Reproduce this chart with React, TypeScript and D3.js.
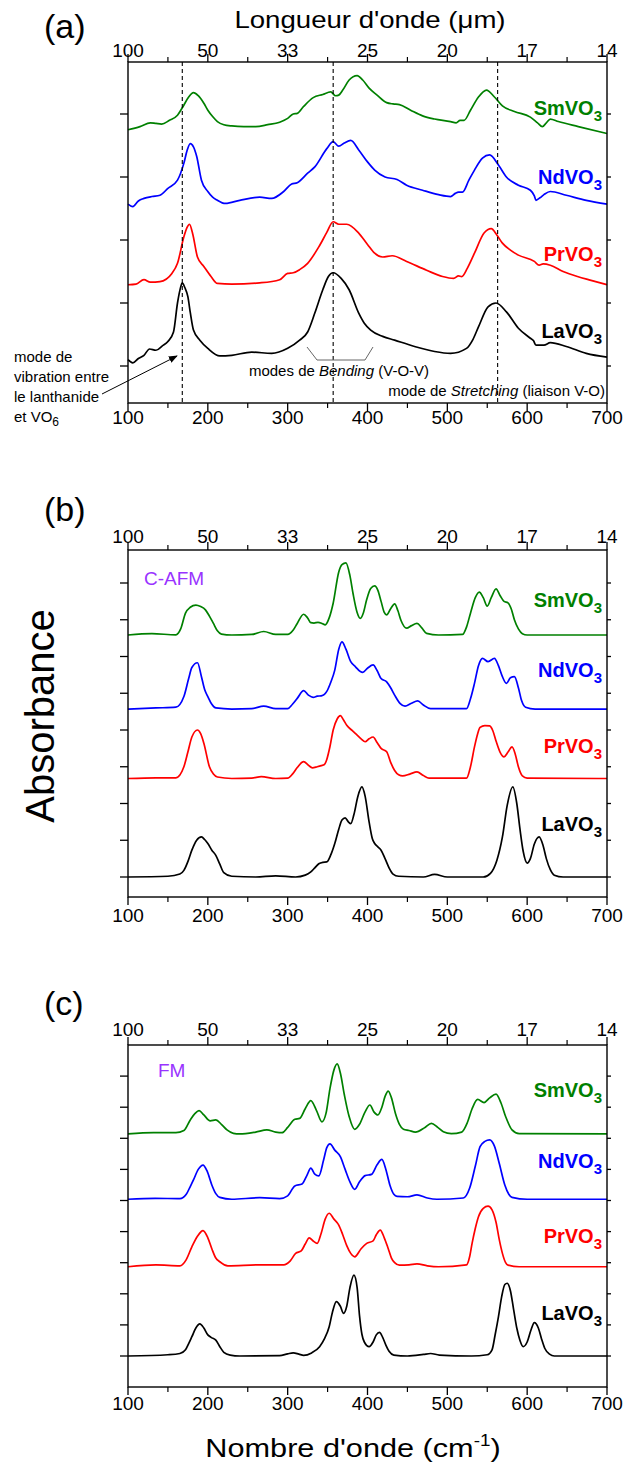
import React from 'react';
import * as d3 from 'd3';

type Pt = [number, number];

// ---------- axis data ----------
const wavenumberTicks = [100, 200, 300, 400, 500, 600, 700];
const wavenumberMinor = [150, 250, 350, 450, 550, 650];
const wavelengthLabels = ['100', '50', '33', '25', '20', '17', '14'];
const compoundNames = ['SmVO', 'NdVO', 'PrVO', 'LaVO'];
const compoundColors = ['#008000', '#0000ff', '#ff0000', '#000000'];
const modeLines = [168, 357, 563];

// ---------- panel (a): experimental spectra ----------
const aSm: Pt[] = [[100,3.75],[115,3.80],[128,3.86],[135,3.85],[142,3.84],[152,3.90],[162,3.98],[169,4.12],[176,4.27],[182,4.34],[188,4.29],[195,4.17],[200,4.06],[206,3.96],[212,3.88],[220,3.83],[230,3.81],[245,3.80],[260,3.80],[275,3.83],[290,3.87],[300,3.93],[307,4.0],[312,4.01],[320,4.12],[332,4.26],[344,4.31],[354,4.35],[360,4.29],[364,4.30],[369,4.38],[377,4.54],[387,4.61],[394,4.54],[402,4.41],[412,4.30],[424,4.18],[432,4.16],[440,4.15],[454,4.06],[469,3.97],[484,3.92],[504,3.88],[511,3.86],[516,3.90],[521,3.90],[529,4.06],[539,4.27],[549,4.38],[559,4.27],[569,4.13],[584,4.04],[604,3.95],[613,3.86],[619,3.80],[624,3.86],[629,3.92],[639,3.88],[664,3.80],[700,3.69]];
const aNd: Pt[] = [[100,2.57],[106,2.53],[113,2.62],[120,2.66],[130,2.69],[140,2.71],[150,2.82],[162,2.95],[170,3.22],[174,3.42],[178,3.53],[182,3.48],[186,3.33],[192,2.95],[200,2.77],[206,2.68],[212,2.63],[218,2.59],[222,2.58],[240,2.63],[265,2.68],[280,2.66],[295,2.77],[305,2.89],[312,2.91],[325,3.06],[334,3.16],[349,3.45],[357,3.56],[364,3.49],[371,3.54],[379,3.58],[389,3.43],[400,3.24],[409,3.11],[422,3.0],[437,2.96],[449,2.87],[469,2.79],[489,2.72],[504,2.69],[510,2.74],[514,2.76],[519,2.76],[527,2.95],[534,3.11],[544,3.30],[553,3.35],[564,3.19],[574,3.0],[589,2.87],[604,2.79],[609,2.70],[611,2.63],[616,2.67],[621,2.72],[629,2.77],[649,2.71],[674,2.63],[700,2.57]];
const aPr: Pt[] = [[100,1.29],[110,1.30],[120,1.37],[128,1.33],[140,1.34],[155,1.47],[162,1.63],[170,2.05],[174,2.2],[177,2.25],[181,2.1],[187,1.73],[195,1.58],[204,1.42],[212,1.31],[230,1.30],[265,1.32],[290,1.37],[300,1.47],[307,1.48],[315,1.53],[325,1.63],[339,1.89],[349,2.12],[357,2.29],[364,2.25],[374,2.25],[389,2.11],[400,1.93],[409,1.79],[419,1.73],[431,1.75],[449,1.66],[474,1.52],[494,1.42],[508,1.39],[514,1.43],[518,1.42],[525,1.55],[534,1.79],[546,2.11],[555,2.18],[562,2.08],[569,1.95],[579,1.84],[589,1.76],[609,1.66],[615,1.60],[620,1.62],[629,1.60],[645,1.50],[663,1.42],[680,1.36],[700,1.29]];
const aLa: Pt[] = [[100,0.10],[106,0.05],[113,0.12],[120,0.17],[127,0.27],[135,0.25],[143,0.32],[150,0.39],[157,0.54],[162,1.0],[165,1.2],[168,1.32],[171,1.25],[175,1.10],[178,0.85],[182,0.57],[190,0.41],[200,0.28],[215,0.16],[230,0.17],[255,0.22],[280,0.20],[300,0.28],[315,0.41],[325,0.54],[334,0.84],[344,1.21],[351,1.42],[357,1.48],[367,1.39],[377,1.21],[389,0.84],[396,0.68],[404,0.57],[419,0.47],[434,0.41],[459,0.31],[484,0.23],[504,0.20],[524,0.28],[532,0.42],[539,0.62],[551,0.94],[561,1.0],[574,0.86],[589,0.60],[604,0.44],[608,0.40],[611,0.33],[621,0.33],[629,0.37],[649,0.31],[674,0.20],[700,0.14]];

// ---------- panel (b): C-AFM calculated spectra ----------
const bSm: Pt[] = [[100,6.585],[130,6.62],[160,6.59],[166,6.75],[172,7.18],[178,7.34],[185,7.40],[191,7.36],[197,7.27],[202,7.10],[207,6.90],[212,6.70],[217,6.61],[230,6.585],[255,6.6],[270,6.68],[285,6.6],[300,6.6],[307,6.72],[312,6.90],[320,7.15],[325,7.05],[329,6.92],[333,6.91],[338,6.93],[343,6.9],[347,6.86],[352,7.05],[357,7.45],[364,8.3],[368,8.5],[373,8.55],[378,8.2],[382,7.7],[387,7.2],[391,7.04],[395,7.2],[399,7.55],[404,7.85],[409,7.92],[413,7.8],[417,7.5],[421,7.2],[424,7.13],[429,7.3],[434,7.43],[438,7.25],[442,6.98],[449,6.77],[455,6.84],[462,6.90],[468,6.78],[474,6.63],[489,6.585],[519,6.6],[524,6.8],[529,7.18],[535,7.6],[540,7.75],[545,7.6],[550,7.37],[555,7.6],[561,7.84],[566,7.66],[571,7.5],[576,7.46],[580,7.3],[584,7.0],[589,6.75],[594,6.62],[600,6.585],[700,6.585]];
const bNd: Pt[] = [[100,4.57],[135,4.6],[160,4.62],[170,4.91],[176,5.4],[180,5.7],[187,5.83],[192,5.45],[196,5.1],[200,4.91],[205,4.7],[210,4.6],[230,4.57],[255,4.58],[270,4.65],[285,4.58],[300,4.58],[306,4.7],[312,4.86],[320,5.07],[326,4.95],[332,4.89],[337,4.92],[342,4.93],[346,4.97],[349,5.05],[354,5.3],[359,5.63],[364,6.2],[368,6.40],[373,6.2],[379,5.86],[385,5.72],[391,5.59],[394,5.57],[400,5.68],[407,5.77],[412,5.62],[417,5.40],[424,5.31],[429,5.15],[434,4.95],[441,4.72],[447,4.65],[455,4.73],[463,4.79],[470,4.68],[479,4.58],[524,4.58],[529,4.85],[534,5.27],[539,5.75],[544,5.95],[551,5.86],[559,5.95],[564,5.75],[569,5.45],[574,5.27],[579,5.42],[584,5.45],[589,5.15],[593,4.8],[598,4.62],[610,4.57],[700,4.57]];
const bPr: Pt[] = [[100,2.68],[135,2.7],[160,2.7],[170,3.0],[175,3.4],[180,3.81],[187,4.0],[191,3.9],[195,3.64],[202,3.0],[207,2.8],[212,2.72],[230,2.68],[255,2.69],[267,2.73],[285,2.68],[300,2.69],[306,2.8],[312,2.98],[320,3.14],[326,3.04],[331,2.97],[337,3.0],[342,3.03],[346,3.06],[349,3.2],[353,3.55],[357,4.0],[362,4.3],[366,4.39],[370,4.27],[374,4.13],[381,3.98],[387,3.86],[392,3.76],[397,3.68],[402,3.76],[407,3.81],[412,3.66],[417,3.50],[424,3.41],[429,3.12],[434,2.9],[439,2.78],[444,2.75],[453,2.8],[462,2.86],[470,2.76],[477,2.69],[524,2.69],[529,3.0],[534,3.54],[538,3.9],[541,4.07],[547,4.12],[553,4.11],[557,3.98],[561,3.7],[566,3.4],[571,3.27],[576,3.4],[581,3.54],[585,3.35],[589,3.0],[594,2.75],[600,2.69],[700,2.68]];
const bLa: Pt[] = [[100,0],[150,0.02],[165,0.08],[170,0.18],[175,0.42],[180,0.73],[186,1.0],[192,1.09],[196,1.02],[200,0.91],[205,0.73],[210,0.59],[215,0.35],[220,0.12],[230,0.02],[260,0.0],[285,0.03],[310,0.0],[322,0.05],[329,0.14],[334,0.25],[339,0.36],[344,0.40],[349,0.41],[354,0.6],[359,0.91],[364,1.3],[368,1.55],[372,1.61],[376,1.5],[379,1.45],[383,1.7],[388,2.2],[393,2.45],[397,2.2],[402,1.5],[406,1.05],[409,0.91],[413,0.82],[417,0.73],[422,0.5],[427,0.25],[432,0.08],[439,0.02],[470,0.0],[484,0.07],[500,0.0],[545,0.0],[554,0.1],[562,0.45],[569,1.09],[575,1.95],[582,2.45],[587,2.0],[591,1.3],[595,0.7],[600,0.38],[604,0.5],[609,0.9],[615,1.09],[620,0.85],[624,0.5],[629,0.2],[634,0.05],[645,0],[700,0]];

// ---------- panel (c): FM calculated spectra ----------
const cSm: Pt[] = [[100,7.14],[132,7.18],[160,7.18],[170,7.25],[178,7.59],[184,7.8],[189,7.89],[195,7.75],[203,7.56],[210,7.59],[217,7.45],[224,7.27],[232,7.16],[240,7.14],[260,7.2],[274,7.27],[285,7.2],[293,7.18],[300,7.35],[309,7.61],[315,7.64],[322,7.95],[329,8.21],[336,7.9],[343,7.53],[348,7.8],[353,8.6],[358,9.2],[362,9.39],[366,9.1],[371,8.4],[377,7.7],[384,7.29],[390,7.45],[397,7.85],[403,8.07],[408,7.85],[413,7.75],[418,8.0],[422,8.35],[426,8.52],[430,8.3],[435,7.8],[440,7.45],[445,7.29],[452,7.25],[460,7.2],[472,7.35],[480,7.48],[488,7.35],[495,7.21],[505,7.15],[518,7.2],[525,7.5],[531,7.95],[538,8.25],[546,8.15],[553,8.3],[561,8.42],[567,8.15],[573,7.7],[581,7.27],[590,7.15],[700,7.14]];
const cNd: Pt[] = [[100,5.04],[134,5.07],[165,5.06],[173,5.2],[178,5.45],[182,5.66],[188,6.0],[194,6.14],[199,5.95],[205,5.5],[210,5.22],[215,5.1],[230,5.04],[265,5.09],[290,5.06],[300,5.15],[309,5.47],[318,5.53],[324,5.8],[329,6.04],[334,5.85],[339,5.79],[345,6.3],[349,6.7],[353,6.82],[359,6.62],[366,6.41],[372,6.0],[378,5.6],[384,5.36],[390,5.6],[397,5.80],[405,5.84],[412,6.15],[418,6.32],[423,6.0],[428,5.5],[433,5.2],[437,5.13],[450,5.12],[462,5.18],[475,5.08],[487,5.04],[520,5.08],[528,5.4],[535,6.1],[541,6.73],[547,6.9],[553,6.95],[559,6.75],[565,6.2],[572,5.5],[577,5.2],[581,5.1],[600,5.04],[700,5.04]];
const cPr: Pt[] = [[100,2.87],[135,2.93],[165,2.9],[173,3.1],[180,3.51],[187,3.85],[194,4.03],[200,3.8],[205,3.45],[210,3.15],[215,3.03],[225,2.9],[265,2.93],[295,2.93],[303,3.05],[310,3.30],[317,3.38],[322,3.6],[327,3.80],[332,3.7],[337,3.62],[342,3.95],[347,4.4],[352,4.59],[358,4.4],[364,4.21],[369,3.9],[374,3.55],[379,3.3],[384,3.19],[392,3.45],[399,3.62],[407,3.7],[411,3.9],[416,4.05],[421,3.8],[426,3.45],[430,3.15],[434,3.0],[440,2.92],[452,2.93],[462,2.96],[475,2.9],[489,2.87],[524,2.93],[528,3.2],[531,3.62],[535,4.1],[539,4.48],[545,4.75],[551,4.82],[556,4.7],[561,4.3],[565,3.75],[569,3.3],[573,3.0],[576,2.92],[590,2.87],[700,2.87]];
const cLa: Pt[] = [[100,0],[150,0.04],[165,0.08],[172,0.2],[176,0.4],[180,0.62],[185,0.9],[190,1.03],[195,0.9],[200,0.68],[204,0.6],[210,0.51],[215,0.3],[220,0.12],[228,0.03],[240,0],[290,0.01],[300,0.07],[307,0.1],[314,0.06],[320,0.02],[330,0.1],[340,0.3],[346,0.55],[352,0.94],[356,1.4],[361,1.75],[366,1.6],[370,1.37],[374,1.6],[378,2.2],[383,2.6],[387,2.2],[390,1.3],[393,0.7],[396,0.45],[402,0.30],[407,0.45],[411,0.68],[415,0.76],[419,0.6],[423,0.35],[427,0.15],[433,0.03],[450,0],[470,0.05],[479,0.08],[490,0.03],[530,0.0],[550,0.04],[556,0.2],[560,0.7],[564,1.26],[568,1.9],[572,2.3],[575,2.34],[579,2.1],[583,1.5],[587,0.9],[591,0.5],[595,0.30],[600,0.45],[605,0.85],[609,1.07],[614,0.9],[618,0.55],[622,0.25],[628,0.06],[634,0.0],[700,0]];

const FONT = "'Liberation Sans', Arial, Helvetica, sans-serif";
const X0 = 128;
const X1 = 607;

interface PanelCfg {
  top: number; bottom: number; zero: number; unit: number; nTicks: number;
  topLabelY: number; bottomLabelY: number; letter: string; letterY: number;
  labelYs: number[]; series: Pt[][]; tag?: string; tagX?: number; tagY?: number;
  dashed?: boolean;
}

const x = d3.scaleLinear().domain([100, 700]).range([X0, X1]);

function Panel({ cfg }: { cfg: PanelCfg }) {
  const y = d3.scaleLinear()
    .domain([(cfg.zero - cfg.bottom) / cfg.unit, (cfg.zero - cfg.top) / cfg.unit])
    .range([cfg.bottom, cfg.top]);
  const line = d3.line<Pt>().x(d => x(d[0])).y(d => y(d[1])).curve(d3.curveMonotoneX);
  const yTicks = d3.range(0, cfg.nTicks);
  const [yb, yt] = [y.range()[0], y.range()[1]];
  return (
    <g>
      {cfg.series.map((s, i) => (
        <path key={i} d={line(s) || ''} fill="none" stroke={compoundColors[i]} strokeWidth={1.7} strokeLinejoin="round" />
      ))}
      {cfg.dashed && modeLines.map(m => (
        <line key={m} x1={x(m)} x2={x(m)} y1={yt} y2={yb} stroke="#000" strokeWidth={1.1} strokeDasharray="4,3" />
      ))}
      {/* frame */}
      <rect x={X0} y={yt} width={X1 - X0} height={yb - yt} fill="none" stroke="#000" strokeWidth={1.4} />
      {/* x ticks */}
      {wavenumberTicks.map((t, i) => (
        <g key={t}>
          <line x1={x(t)} x2={x(t)} y1={yb} y2={yb + 8} stroke="#000" strokeWidth={1.3} />
          <line x1={x(t)} x2={x(t)} y1={yt} y2={yt - 8} stroke="#000" strokeWidth={1.3} />
          <text x={x(t)} y={cfg.bottomLabelY} textAnchor="middle" fontSize={19} fontFamily={FONT}>{t}</text>
          <text x={x(t)} y={cfg.topLabelY} textAnchor="middle" fontSize={19} fontFamily={FONT}>{wavelengthLabels[i]}</text>
        </g>
      ))}
      {wavenumberMinor.map(t => (
        <g key={t}>
          <line x1={x(t)} x2={x(t)} y1={yb} y2={yb + 5} stroke="#000" strokeWidth={1.2} />
          <line x1={x(t)} x2={x(t)} y1={yt} y2={yt - 5} stroke="#000" strokeWidth={1.2} />
        </g>
      ))}
      {yTicks.map(t => (
        <g key={t}>
          <line x1={X0} x2={X0 - 8} y1={y(t)} y2={y(t)} stroke="#000" strokeWidth={1.3} />
          <line x1={X1} x2={X1 + 4} y1={y(t)} y2={y(t)} stroke="#000" strokeWidth={1.3} />
        </g>
      ))}
      {/* compound labels */}
      {compoundNames.map((n, i) => (
        <text key={n} x={602} y={cfg.labelYs[i]} textAnchor="end" fontSize={20} fontWeight="bold" fontFamily={FONT} fill={compoundColors[i]}>
          {n}<tspan fontSize={15} dy={6}>3</tspan>
        </text>
      ))}
      {cfg.tag && (
        <text x={cfg.tagX} y={cfg.tagY} fontSize={19} fontFamily={FONT} fill="#9933ff">{cfg.tag}</text>
      )}
      <text x={44} y={cfg.letterY} fontSize={34} fontFamily={FONT}>{cfg.letter}</text>
    </g>
  );
}

const panels: PanelCfg[] = [
  { top: 62, bottom: 403, zero: 366, unit: 63, nTicks: 5, topLabelY: 57, bottomLabelY: 424, letter: '(a)', letterY: 38,
    labelYs: [115, 184, 261, 338], series: [aSm, aNd, aPr, aLa], dashed: true },
  { top: 550, bottom: 897, zero: 877, unit: 36.75, nTicks: 9, topLabelY: 543, bottomLabelY: 922, letter: '(b)', letterY: 521,
    labelYs: [607, 677, 753, 831], series: [bSm, bNd, bPr, bLa], tag: 'C-AFM', tagX: 144, tagY: 585 },
  { top: 1045, bottom: 1387, zero: 1356, unit: 31.1, nTicks: 10, topLabelY: 1036, bottomLabelY: 1410, letter: '(c)', letterY: 1015,
    labelYs: [1097, 1168, 1243, 1320], series: [cSm, cNd, cPr, cLa], tag: 'FM', tagX: 158, tagY: 1077 },
];

export default function App() {
  return (
    <svg width={623} height={1470} style={{ position: 'absolute', left: 0, top: 0, background: '#fff' }} fontFamily={FONT}>
      <rect width={623} height={1470} fill="#fff" />
      {panels.map((p, i) => <Panel key={i} cfg={p} />)}

      {/* top title */}
      <g transform="translate(370,28) scale(1.2,1)">
        <text textAnchor="middle" fontSize={23} fontFamily={FONT}>Longueur d'onde (μm)</text>
      </g>
      {/* bottom title */}
      <g transform="translate(353,1457) scale(1.18,1)">
        <text textAnchor="middle" fontSize={26} fontFamily={FONT}>
          Nombre d'onde (cm<tspan fontSize={16} dy={-11}>-1</tspan><tspan dy={11}>)</tspan>
        </text>
      </g>
      {/* y title */}
      <text transform="translate(54,716) rotate(-90)" textAnchor="middle" fontSize={40} fontFamily={FONT}>Absorbance</text>

      {/* annotations panel (a) */}
      <g fontSize={15} fontFamily={FONT} fill="#000">
        <text x={14} y={362}>mode de</text>
        <text x={14} y={382}>vibration entre</text>
        <text x={14} y={402}>le lanthanide</text>
        <text x={14} y={422}>et VO<tspan fontSize={12} dy={4}>6</tspan></text>
        <text x={339} y={376} textAnchor="middle">modes de <tspan fontStyle="italic">Bending</tspan> (V-O-V)</text>
        <text x={605} y={396} textAnchor="end">mode de <tspan fontStyle="italic">Stretching</tspan> (liaison V-O)</text>
      </g>
      <polyline points="307,347 317,360 365,360 373,347" fill="none" stroke="#666" strokeWidth={1} />
      <defs>
        <marker id="arr" viewBox="0 0 10 10" refX="9" refY="5" markerWidth="9" markerHeight="9" orient="auto">
          <path d="M0,1 L10,5 L0,9 z" fill="#000" />
        </marker>
      </defs>
      <line x1={102} y1={394} x2={177} y2={356} stroke="#000" strokeWidth={1} markerEnd="url(#arr)" />
    </svg>
  );
}
